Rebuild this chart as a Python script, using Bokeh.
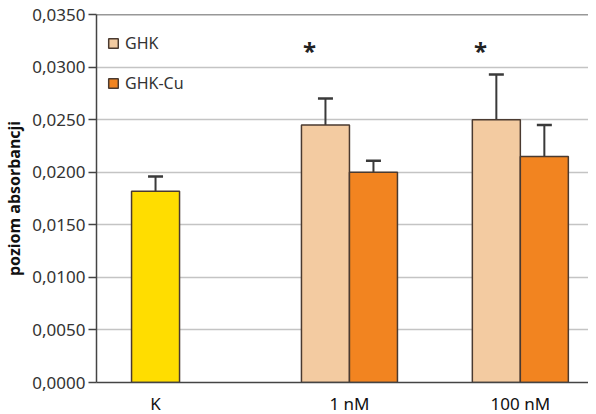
from bokeh.plotting import figure
from bokeh.models import (ColumnDataSource, Range1d, FixedTicker, CustomJSTickFormatter,
                          Whisker, TeeHead, Span, Legend, LegendItem)
from bokeh.core.properties import value
from bokeh.embed import file_html
from bokeh.resources import INLINE

# ---- data ----
groups = ["K", "1 nM", "100 nM"]
series = ["GHK", "GHK-Cu"]
k_mean = [0.0182]
k_err = [0.0014]
ghk_mean = [0.0245, 0.0250]
ghk_err = [0.0025, 0.0043]
ghkcu_mean = [0.0200, 0.0215]
ghkcu_err = [0.0011, 0.0030]
star_groups = ["1 nM", "100 nM"]
star_level = 0.0316
y_ticks = [0.0, 0.005, 0.01, 0.015, 0.02, 0.025, 0.03, 0.035]

# ---- layout ----
group_centers = {"K": 1.23, "1 nM": 5.27, "100 nM": 8.83}
bar_w = 1.0
FONT = "Noto Sans"
TXT = "#333333"
EDGE = "#4a3a30"

p = figure(frame_width=492, frame_height=368, output_backend="svg", toolbar_location=None,
           x_range=Range1d(0, 10.25), y_range=Range1d(0, 0.035),
           min_border_left=88, min_border_top=14, min_border_right=0, min_border_bottom=26)
p.outline_line_color = None
p.xgrid.grid_line_color = None
p.ygrid.grid_line_color = "#c4c4c4"
p.ygrid.grid_line_width = 1.5
p.ygrid.ticker = FixedTicker(ticks=y_ticks)

# K bar
src_k = ColumnDataSource(dict(x=[group_centers["K"]], top=k_mean,
                              up=[m + e for m, e in zip(k_mean, k_err)]))
p.vbar(x="x", top="top", width=bar_w, source=src_k, fill_color="#FFDD00",
       line_color=EDGE, line_width=1.5)

xs = [group_centers[g] for g in groups[1:]]
src_g = ColumnDataSource(dict(x=[x - bar_w / 2 for x in xs], top=ghk_mean,
                              up=[m + e for m, e in zip(ghk_mean, ghk_err)]))
src_c = ColumnDataSource(dict(x=[x + bar_w / 2 for x in xs], top=ghkcu_mean,
                              up=[m + e for m, e in zip(ghkcu_mean, ghkcu_err)]))
r_g = p.vbar(x="x", top="top", width=bar_w, source=src_g, fill_color="#F3CBA1",
             line_color=EDGE, line_width=1.5)
r_c = p.vbar(x="x", top="top", width=bar_w, source=src_c, fill_color="#F28420",
             line_color=EDGE, line_width=1.5)

for src in (src_k, src_g, src_c):
    w = Whisker(base="x", lower="top", upper="up", source=src, dimension="height",
                line_color="#3a3a3a", line_width=2,
                lower_head=None,
                upper_head=TeeHead(size=15, line_color="#3a3a3a", line_width=2.5))
    p.add_layout(w)

# stars
p.text(x=[group_centers[g] - bar_w / 2 - 0.33 for g in star_groups],
       y=[star_level] * len(star_groups), text=["*"] * len(star_groups),
       text_font=value(FONT), text_font_size="24px", text_font_style="bold",
       text_color="#222222", text_align="center", text_baseline="middle")

# top border
p.add_layout(Span(location=0.035, dimension="width", line_color="#333333", line_width=1.5))

# axes
p.yaxis.ticker = FixedTicker(ticks=y_ticks)
p.yaxis.formatter = CustomJSTickFormatter(code="return tick.toFixed(4).replace('.', ',');")
p.yaxis.axis_label = "poziom absorbancji"
p.yaxis.axis_label_text_font = FONT
p.yaxis.axis_label_text_font_style = "bold"
p.yaxis.axis_label_text_font_size = "16px"
p.yaxis.axis_label_text_color = "#111111"
p.yaxis.axis_label_standoff = 4
p.yaxis.major_label_text_font = FONT
p.yaxis.major_label_text_font_size = "17px"
p.yaxis.major_label_text_color = TXT
p.yaxis.major_label_standoff = 3
p.yaxis.major_tick_out = 8
p.yaxis.major_tick_in = 0
p.yaxis.minor_tick_line_color = None
p.yaxis.axis_line_color = "#444444"
p.yaxis.axis_line_width = 1.5
p.yaxis.major_tick_line_color = "#444444"
p.yaxis.major_tick_line_width = 1.5

p.xaxis.ticker = FixedTicker(ticks=[group_centers[g] for g in groups])
p.xaxis.major_label_overrides = {group_centers[g]: g for g in groups}
p.xaxis.major_tick_line_color = None
p.xaxis.minor_tick_line_color = None
p.xaxis.major_label_text_font = FONT
p.xaxis.major_label_text_font_size = "17px"
p.xaxis.major_label_text_color = "#111111"
p.xaxis.major_label_standoff = 3
p.xaxis.axis_line_color = "#444444"
p.xaxis.axis_line_width = 1.5

legend = Legend(items=[LegendItem(label=series[0], renderers=[r_g]),
                       LegendItem(label=series[1], renderers=[r_c])],
                location=(11, 288), orientation="vertical")
legend.background_fill_alpha = 0
legend.border_line_color = None
legend.padding = 0
legend.margin = 0
legend.spacing = 18
legend.label_height = 20
legend.glyph_width = 12
legend.glyph_height = 12
legend.label_standoff = 6
legend.label_text_font = FONT
legend.label_text_font_size = "16px"
legend.label_text_color = TXT
p.add_layout(legend, "center")

open("out.html", "w").write(file_html(p, INLINE))
